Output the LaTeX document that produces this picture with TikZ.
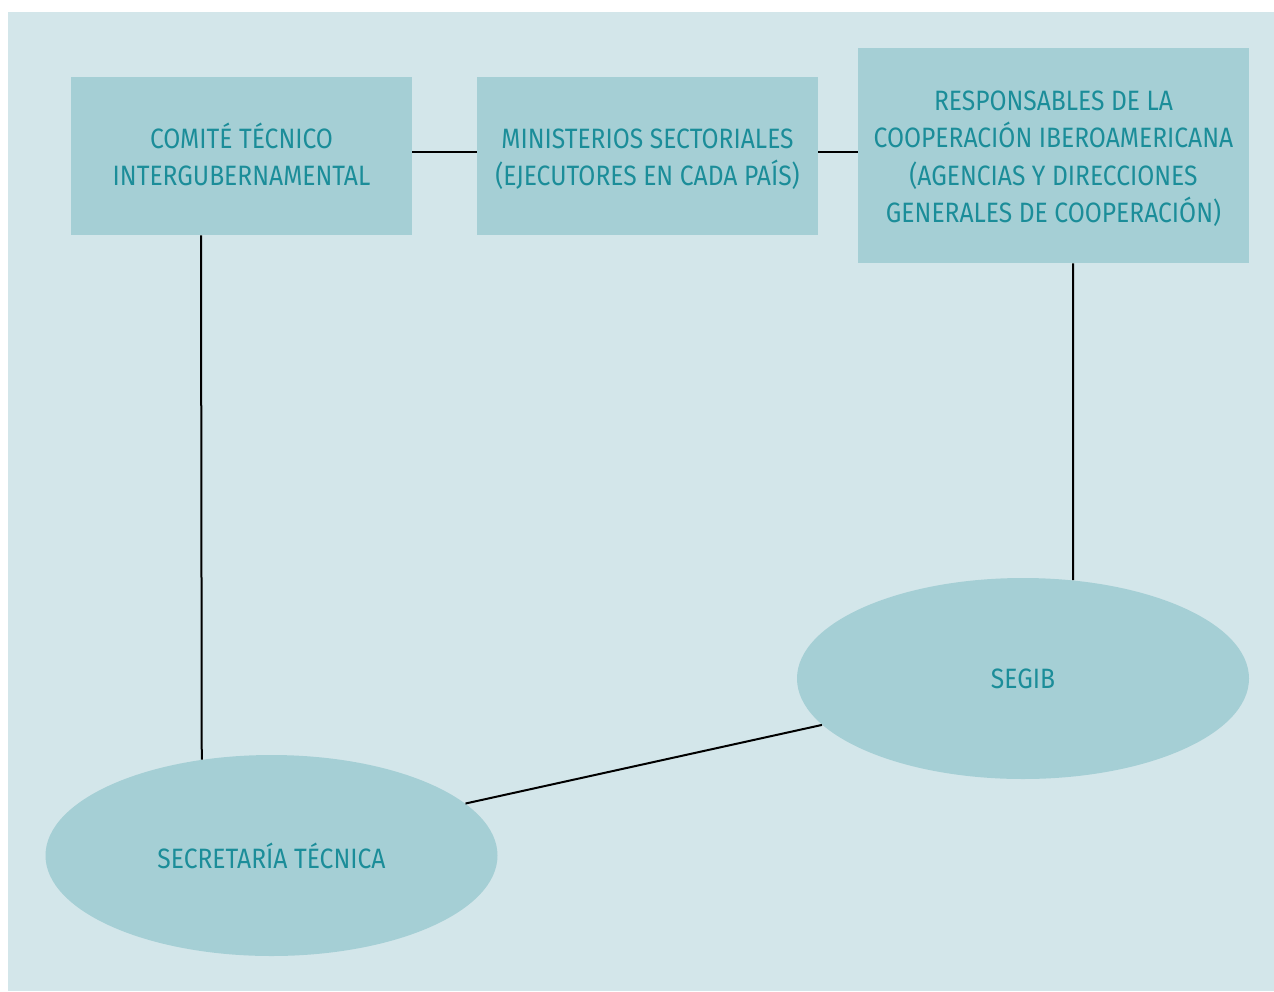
\documentclass[tikz,border=0pt]{standalone}
\usepackage{fontspec}
\setmainfont[FakeStretch=0.88]{Fira Sans}
\usetikzlibrary{shapes.geometric}
\definecolor{panel}{HTML}{D3E6EA}
\definecolor{boxfill}{HTML}{A5CFD5}
\definecolor{txt}{HTML}{1B8D99}
\newcommand{\toppad}{\rule{0pt}{16.6pt}}
\tikzset{
  orgbox/.style={fill=boxfill, draw=none, inner sep=0pt, align=center, text=txt,
    font=\fontsize{14}{18.75}\selectfont},
  orgell/.style={ellipse, fill=boxfill, draw=none, inner sep=0pt, align=center, text=txt,
    minimum width=226pt, minimum height=100.5pt, font=\fontsize{14}{18.75}\selectfont},
  link/.style={draw=black, line width=1pt}
}
\begin{document}
\begin{tikzpicture}[x=0.5pt,y=-0.5pt]
\useasboundingbox (0,0) rectangle (1274,991);
\fill[white] (0,0) rectangle (1274,991);
\fill[panel] (8,12) rectangle (1274,991);
\node[orgbox, minimum width=170.5pt, minimum height=79pt] (b1) at (241.5,156) {\toppad COMITÉ TÉCNICO\\INTERGUBERNAMENTAL\strut};
\node[orgbox, minimum width=170.5pt, minimum height=79pt] (b2) at (647.5,156) {\toppad MINISTERIOS SECTORIALES\\(EJECUTORES EN CADA PAÍS)\strut};
\node[orgbox, minimum width=195.5pt, minimum height=107.5pt] (b3) at (1053.5,155.5) {\strut RESPONSABLES DE LA\\COOPERACIÓN IBEROAMERICANA\\(AGENCIAS Y DIRECCIONES\\GENERALES DE COOPERACIÓN)};
\node[orgell] (segib) at (1023,678.5) {SEGIB};
\node[orgell] (sec) at (271.5,855.5) {SECRETARÍA TÉCNICA};
\draw[link] ([yshift=2pt]b1.east) -- ([yshift=2pt]b1.east -| b2.west);
\draw[link] ([yshift=2pt]b2.east) -- ([yshift=2pt]b2.east -| b3.west);
\draw[link] ([xshift=-20.25pt]b1.south) -- (sec.126.4);
\draw[link] ([xshift=9.75pt]b3.south) -- (segib.63);
\draw[link] (segib.193.8) -- (sec.15.6);
\end{tikzpicture}
\end{document}
